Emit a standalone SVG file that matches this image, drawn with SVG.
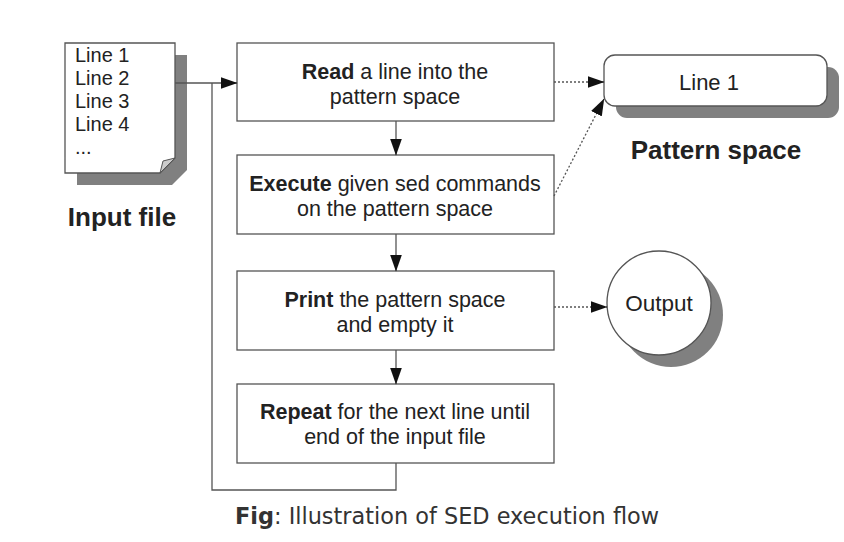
<svg xmlns="http://www.w3.org/2000/svg" width="844" height="542" viewBox="0 0 844 542">
<style>
.box{fill:#fff;stroke:#555;stroke-width:1.3}
.sh{fill:#808080}
.t{font-family:"Liberation Sans",Arial,sans-serif;font-size:21.5px;fill:#222;text-anchor:middle}
.d{font-size:20px;text-anchor:start}
.b{font-weight:bold}
.big{font-size:26px;font-weight:bold}
.ln{fill:none;stroke:#555;stroke-width:1.3}
.dot{fill:none;stroke:#555;stroke-width:1.3;stroke-dasharray:2,2}
</style>
<defs>
<marker id="ah" markerWidth="17" markerHeight="12" refX="16.5" refY="6" orient="auto" markerUnits="userSpaceOnUse">
<path d="M0,0 L17,6 L0,12 Z" fill="#111"/>
</marker>
</defs>
<rect width="844" height="542" fill="#fff"/>
<g id="input-file">
<polygon class="sh" points="77,55 187,55 187,170 172,185 77,185"/>
<polygon class="box" points="65,43 175,43 175,158 160,173 65,173"/>
<polygon points="160,173 163,161 175,158" fill="#ccc" stroke="#555" stroke-width="1"/>
<text class="t d" x="75" y="62">Line 1</text>
<text class="t d" x="75" y="85">Line 2</text>
<text class="t d" x="75" y="108">Line 3</text>
<text class="t d" x="75" y="131">Line 4</text>
<text class="t d" x="75" y="154">...</text>
<text class="t big" x="122" y="226">Input file</text>
</g>
<g id="read">
<rect class="box" x="237" y="43" width="317" height="78"/>
<text class="t" x="395" y="79"><tspan class="b">Read</tspan> a line into the</text>
<text class="t" x="395" y="104">pattern space</text>
</g>
<g id="execute">
<rect class="box" x="237" y="155" width="317" height="79"/>
<text class="t" x="395" y="191"><tspan class="b">Execute</tspan> given sed commands</text>
<text class="t" x="395" y="216">on the pattern space</text>
</g>
<g id="print">
<rect class="box" x="237" y="271" width="317" height="79"/>
<text class="t" x="395" y="307"><tspan class="b">Print</tspan> the pattern space</text>
<text class="t" x="395" y="332">and empty it</text>
</g>
<g id="repeat">
<rect class="box" x="237" y="384" width="317" height="79"/>
<text class="t" x="395" y="419"><tspan class="b">Repeat</tspan> for the next line until</text>
<text class="t" x="395" y="444">end of the input file</text>
</g>
<g id="pattern-space">
<rect class="sh" x="616" y="67" width="223" height="51" rx="11"/>
<rect class="box" x="604" y="55" width="223" height="51" rx="11"/>
<text class="t" x="709" y="90" style="font-size:22px">Line 1</text>
<text class="t big" x="716" y="159">Pattern space</text>
</g>
<g id="output">
<circle class="sh" cx="671" cy="315" r="52"/>
<circle class="box" cx="659" cy="303" r="52"/>
<text class="t" x="659" y="311" style="font-size:22.5px">Output</text>
</g>
<g id="connectors">
<polyline class="ln" points="175,83 237,83" marker-end="url(#ah)"/>
<polyline class="ln" points="396,463 396,490 212,490 212,83"/>
<line class="ln" x1="396" y1="121" x2="396" y2="155" marker-end="url(#ah)"/>
<line class="ln" x1="396" y1="234" x2="396" y2="271" marker-end="url(#ah)"/>
<line class="ln" x1="396" y1="350" x2="396" y2="384" marker-end="url(#ah)"/>
<line class="dot" x1="554" y1="82" x2="604" y2="82" marker-end="url(#ah)"/>
<line class="dot" x1="554" y1="196" x2="604" y2="99" marker-end="url(#ah)"/>
<line class="dot" x1="554" y1="307" x2="607" y2="307" marker-end="url(#ah)"/>
</g>
<text x="447" y="524" font-family="'DejaVu Sans',sans-serif" font-size="22.4" fill="#333" text-anchor="middle"><tspan font-weight="bold">Fig</tspan>: Illustration of SED execution flow</text>
</svg>
